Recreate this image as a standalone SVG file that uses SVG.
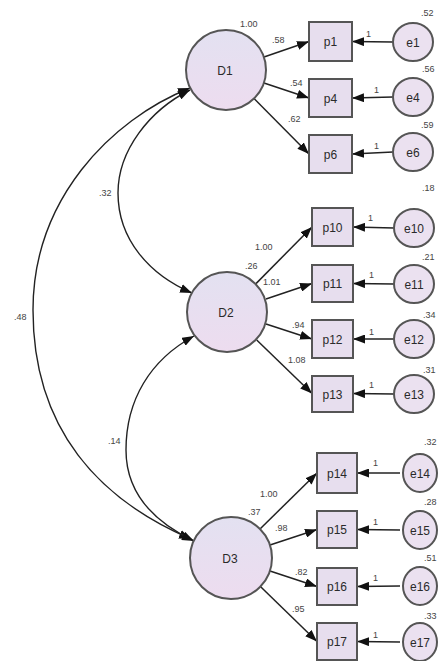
<svg xmlns="http://www.w3.org/2000/svg" width="438" height="661" viewBox="0 0 438 661">
  <defs>
    <linearGradient id="latentFill" x1="0" y1="0" x2="0" y2="1">
      <stop offset="0" stop-color="#e3e1f1"/>
      <stop offset="1" stop-color="#eddcef"/>
    </linearGradient>
    <marker id="arrow" viewBox="0 0 12 9" refX="12" refY="4.5" markerWidth="12" markerHeight="9" markerUnits="userSpaceOnUse" orient="auto-start-reverse">
      <path d="M0,0 L12,4.5 L0,9 Z" fill="#111"/>
    </marker>
  </defs>
  <style>
    .latent { fill: url(#latentFill); stroke: #555; stroke-width: 2; }
    .obs { fill: #e7deee; stroke: #555; stroke-width: 2; }
    .err { fill: #ebe1f0; stroke: #555; stroke-width: 2; }
    .lbl { font-family: "Liberation Sans", Arial, sans-serif; font-size: 12px; fill: #2a2a2a; text-anchor: middle; dominant-baseline: central; }
    .num { font-family: "Liberation Sans", Arial, sans-serif; font-size: 9px; fill: #444; }
    .path { stroke: #222; stroke-width: 1.5; fill: none; marker-end: url(#arrow); }
    .cov { stroke: #222; stroke-width: 1.4; fill: none; marker-start: url(#arrow); marker-end: url(#arrow); }
  </style>
  <rect width="438" height="661" fill="#fff"/>

  <!-- connectors -->
  <g id="connectors">
    <!-- covariances between factors -->
    <path class="cov" d="M190,88 C110,120 33,200 33,310 C33,430 100,500 191,539"/>
    <path class="cov" d="M190,90 C150,110 118,150 118,193 C118,240 150,275 192,293"/>
    <path class="cov" d="M194,336 C150,360 126,400 126,450 C126,490 150,520 194,541"/>
    <!-- loadings -->
    <line class="path" x1="264" y1="57" x2="309" y2="41.5"/>
    <line class="path" x1="264" y1="83" x2="309" y2="98"/>
    <line class="path" x1="254" y1="98.5" x2="309" y2="154"/>
    <line class="path" x1="256" y1="283.6" x2="312" y2="227"/>
    <line class="path" x1="266" y1="299" x2="312" y2="283.5"/>
    <line class="path" x1="266" y1="324" x2="312" y2="339"/>
    <line class="path" x1="256.7" y1="340" x2="312" y2="393.5"/>
    <line class="path" x1="260" y1="529" x2="317" y2="473"/>
    <line class="path" x1="270" y1="545" x2="317" y2="529.5"/>
    <line class="path" x1="270" y1="571" x2="317" y2="586.5"/>
    <line class="path" x1="260.4" y1="586.5" x2="317" y2="641.5"/>
    <!-- error terms -->
    <line class="path" x1="393" y1="42" x2="352" y2="41.5"/>
    <line class="path" x1="393" y1="97" x2="352" y2="98"/>
    <line class="path" x1="393" y1="152" x2="352" y2="154"/>
    <line class="path" x1="394" y1="228" x2="353" y2="227"/>
    <line class="path" x1="394" y1="284" x2="353" y2="283.5"/>
    <line class="path" x1="394" y1="339" x2="353" y2="339"/>
    <line class="path" x1="394" y1="394" x2="353" y2="393.5"/>
    <line class="path" x1="400" y1="473" x2="357" y2="473"/>
    <line class="path" x1="400" y1="530" x2="357" y2="529.5"/>
    <line class="path" x1="400" y1="586" x2="357" y2="586.5"/>
    <line class="path" x1="400" y1="642" x2="357" y2="641.5"/>
  </g>

  <!-- estimates -->
  <g id="estimates">
    <text class="num" x="14" y="320">.48</text>
    <text class="num" x="99" y="196">.32</text>
    <text class="num" x="108" y="444">.14</text>
    <text class="num" x="240" y="27">1.00</text>
    <text class="num" x="272" y="43">.58</text>
    <text class="num" x="290" y="86">.54</text>
    <text class="num" x="288" y="122">.62</text>
    <text class="num" x="255" y="250">1.00</text>
    <text class="num" x="245" y="269">.26</text>
    <text class="num" x="263" y="285">1.01</text>
    <text class="num" x="292" y="328">.94</text>
    <text class="num" x="288" y="363">1.08</text>
    <text class="num" x="260" y="497">1.00</text>
    <text class="num" x="248" y="515">.37</text>
    <text class="num" x="275" y="531">.98</text>
    <text class="num" x="295" y="575">.82</text>
    <text class="num" x="292" y="612">.95</text>
    <text class="num" x="366" y="37">1</text>
    <text class="num" x="374" y="93">1</text>
    <text class="num" x="374" y="149">1</text>
    <text class="num" x="368" y="221">1</text>
    <text class="num" x="369" y="278">1</text>
    <text class="num" x="369" y="335">1</text>
    <text class="num" x="369" y="388">1</text>
    <text class="num" x="373" y="466">1</text>
    <text class="num" x="373" y="525">1</text>
    <text class="num" x="373" y="581">1</text>
    <text class="num" x="373" y="638">1</text>
    <text class="num" x="421" y="16">.52</text>
    <text class="num" x="422" y="72">.56</text>
    <text class="num" x="421" y="128">.59</text>
    <text class="num" x="422" y="191">.18</text>
    <text class="num" x="422" y="260">.21</text>
    <text class="num" x="423" y="318">.34</text>
    <text class="num" x="423" y="373">.31</text>
    <text class="num" x="424" y="445">.32</text>
    <text class="num" x="424" y="505">.28</text>
    <text class="num" x="424" y="561">.51</text>
    <text class="num" x="424" y="619">.33</text>
  </g>

  <!-- latent factors -->
  <g id="D1"><circle class="latent" cx="226" cy="70" r="40"/><text class="lbl" x="225" y="71">D1</text></g>
  <g id="D2"><circle class="latent" cx="227" cy="312" r="40"/><text class="lbl" x="226" y="313">D2</text></g>
  <g id="D3"><circle class="latent" cx="231" cy="558" r="41"/><text class="lbl" x="230" y="559">D3</text></g>

  <!-- observed items -->
  <g id="p1"><rect class="obs" x="309" y="22" width="43" height="39"/><text class="lbl" x="330.5" y="42">p1</text></g>
  <g id="p4"><rect class="obs" x="309" y="79" width="43" height="38"/><text class="lbl" x="330.5" y="98.5">p4</text></g>
  <g id="p6"><rect class="obs" x="309" y="135" width="43" height="38"/><text class="lbl" x="330.5" y="154.5">p6</text></g>
  <g id="p10"><rect class="obs" x="312" y="208" width="41" height="38"/><text class="lbl" x="332.5" y="227.5">p10</text></g>
  <g id="p11"><rect class="obs" x="312" y="265" width="41" height="37"/><text class="lbl" x="332.5" y="284">p11</text></g>
  <g id="p12"><rect class="obs" x="312" y="320" width="41" height="38"/><text class="lbl" x="332.5" y="339.5">p12</text></g>
  <g id="p13"><rect class="obs" x="312" y="376" width="41" height="36"/><text class="lbl" x="332.5" y="394.5">p13</text></g>
  <g id="p14"><rect class="obs" x="317" y="453" width="40" height="40"/><text class="lbl" x="337" y="473.5">p14</text></g>
  <g id="p15"><rect class="obs" x="317" y="511" width="40" height="37"/><text class="lbl" x="337" y="530">p15</text></g>
  <g id="p16"><rect class="obs" x="317" y="568" width="40" height="37"/><text class="lbl" x="337" y="587">p16</text></g>
  <g id="p17"><rect class="obs" x="317" y="623" width="40" height="37"/><text class="lbl" x="337" y="642">p17</text></g>

  <!-- error terms -->
  <g id="e1"><ellipse class="err" cx="413" cy="42" rx="20" ry="19"/><text class="lbl" x="413" y="43">e1</text></g>
  <g id="e4"><ellipse class="err" cx="413" cy="97" rx="20" ry="19"/><text class="lbl" x="413" y="98">e4</text></g>
  <g id="e6"><ellipse class="err" cx="413" cy="152" rx="20" ry="19"/><text class="lbl" x="413" y="153">e6</text></g>
  <g id="e10"><ellipse class="err" cx="414" cy="228" rx="20" ry="19"/><text class="lbl" x="414" y="229">e10</text></g>
  <g id="e11"><ellipse class="err" cx="414" cy="284" rx="20" ry="19"/><text class="lbl" x="414" y="285">e11</text></g>
  <g id="e12"><ellipse class="err" cx="414" cy="339" rx="20" ry="19"/><text class="lbl" x="414" y="340">e12</text></g>
  <g id="e13"><ellipse class="err" cx="414" cy="394" rx="20" ry="19"/><text class="lbl" x="414" y="395">e13</text></g>
  <g id="e14"><ellipse class="err" cx="420" cy="473" rx="17" ry="19"/><text class="lbl" x="420" y="474">e14</text></g>
  <g id="e15"><ellipse class="err" cx="420" cy="530" rx="17" ry="19"/><text class="lbl" x="420" y="531">e15</text></g>
  <g id="e16"><ellipse class="err" cx="420" cy="586" rx="17" ry="19"/><text class="lbl" x="420" y="587">e16</text></g>
  <g id="e17"><ellipse class="err" cx="420" cy="642" rx="17" ry="19"/><text class="lbl" x="420" y="643">e17</text></g>
</svg>
